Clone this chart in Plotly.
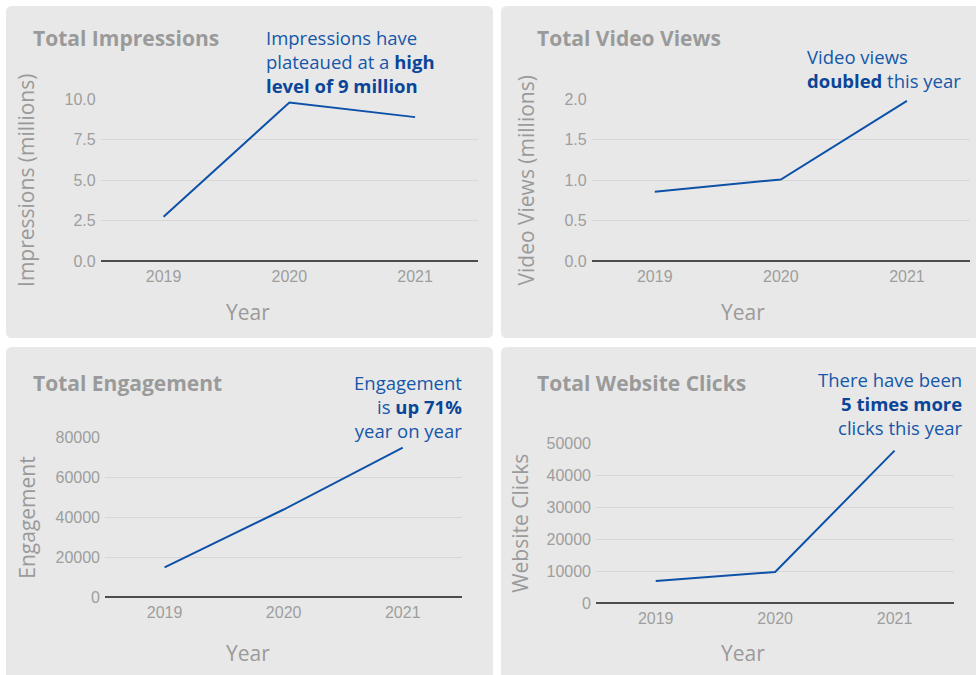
import plotly.graph_objects as go

W, H = 976, 675

# ---- data ----
years = ["2019", "2020", "2021"]
impressions_m = [2.75, 9.8, 8.9]
video_views_m = [0.86, 1.01, 1.98]
engagement = [15000, 44000, 75000]
website_clicks = [7000, 9800, 47700]

titles = ["Total Impressions", "Total Video Views", "Total Engagement", "Total Website Clicks"]
y_titles = ["Impressions (millions)", "Video Views (millions)", "Engagement", "Website Clicks"]
x_title = "Year"

# ---- style ----
PANEL_BG = "#e8e8e8"
GRID = "#d7d7d7"
ZERO = "#4d4d4d"
LINE = "#0d52a8"
TXT_BLUE = "#1557a8"
BOLD_BLUE = "#0a4597"
GREY_TITLE = "#9a9a9a"
GREY_TICK = "#9e9e9e"
FONT_TEXT = "Open Sans"
FONT_TICK = "Liberation Sans, Arial"


def px(x):
    return x / W


def py(y):
    # page y (px from top) -> paper fraction
    return 1 - y / H


def b(s):
    return f"<b><span style='color:{BOLD_BLUE}'>{s}</span></b>"


# panel geometry (page pixels): background box, plot area
panels = [
    dict(box=(6, 6, 493, 338), plot=(100.7, 99.3, 478, 261.3),
         yrange=[0, 10], dtick=2.5, fmt=".1f", standoff=24,
         title_xy=(31, 38), xtitle_xy=(248, 312)),
    dict(box=(501, 6, 990, 338), plot=(591.7, 99.3, 970, 261.3),
         yrange=[0, 2], dtick=0.5, fmt=".1f", standoff=24,
         title_xy=(535, 38), xtitle_xy=(743, 312)),
    dict(box=(6, 347, 493, 700), plot=(105, 437.7, 462.3, 597.3),
         yrange=[0, 80000], dtick=20000, fmt="d", standoff=14,
         title_xy=(31, 383), xtitle_xy=(248, 653)),
    dict(box=(501, 347, 990, 700), plot=(596, 443.3, 954.3, 603.3),
         yrange=[0, 50000], dtick=10000, fmt="d", standoff=12,
         title_xy=(535, 383), xtitle_xy=(743, 653)),
]
series = [impressions_m, video_views_m, engagement, website_clicks]

# callouts: text block anchored at (x, page y of its middle)
notes = [
    dict(x=265, y=61.5, xanchor="left",
         text="Impressions have<br>plateaued at a " + b("high") + "<br>" + b("level of 9 million")),
    dict(x=806, y=68, xanchor="left",
         text="Video views<br>" + b("doubled") + " this year"),
    dict(x=463, y=406, xanchor="right",
         text="Engagement<br>is " + b("up 71%") + "<br>year on year"),
    dict(x=963.5, y=403.5, xanchor="right",
         text="There have been<br>" + b("5 times more") + "<br>clicks this year"),
]

fig = go.Figure()
shapes = []
annotations = []
layout_axes = {}


def rounded_rect(x0, y0, x1, y1, r=6):
    X0, X1 = px(x0), px(x1)
    Y0, Y1 = py(y0), py(y1)
    rx, ry = r / W, r / H
    return (f"M {X0 + rx},{Y0} L {X1 - rx},{Y0} Q {X1},{Y0} {X1},{Y0 - ry} "
            f"L {X1},{Y1 + ry} Q {X1},{Y1} {X1 - rx},{Y1} "
            f"L {X0 + rx},{Y1} Q {X0},{Y1} {X0},{Y1 + ry} "
            f"L {X0},{Y0 - ry} Q {X0},{Y0} {X0 + rx},{Y0} Z")


for i, (p, vals) in enumerate(zip(panels, series)):
    n = "" if i == 0 else str(i + 1)
    xa, ya = f"x{n}", f"y{n}"

    fig.add_trace(go.Scatter(
        x=years, y=vals, mode="lines", xaxis=xa, yaxis=ya,
        line=dict(color=LINE, width=2), showlegend=False, hoverinfo="x+y",
    ))

    bx0, by0, bx1, by1 = p["box"]
    shapes.append(dict(type="path", path=rounded_rect(bx0, by0, bx1, by1),
                       xref="paper", yref="paper", fillcolor=PANEL_BG,
                       line=dict(width=0), layer="below"))

    x0, y0, x1, y1 = p["plot"]
    layout_axes[f"xaxis{n}"] = dict(
        domain=[px(x0), px(x1)], anchor=ya, type="category",
        categoryorder="array", categoryarray=years, range=[-0.5, 2.5],
        showgrid=False, zeroline=False, showline=False, ticks="",
        tickfont=dict(family=FONT_TICK, size=16, color=GREY_TICK),
        ticklabelstandoff=4, fixedrange=True, automargin=False,
    )
    layout_axes[f"yaxis{n}"] = dict(
        domain=[py(y1), py(y0)], anchor=xa, range=p["yrange"],
        tick0=0, dtick=p["dtick"], tickformat=p["fmt"],
        showgrid=True, gridcolor=GRID, gridwidth=1,
        zeroline=True, zerolinecolor=ZERO, zerolinewidth=1.5,
        showline=False, ticks="",
        tickfont=dict(family=FONT_TICK, size=16, color=GREY_TICK),
        ticklabelstandoff=4, automargin=False,
        title=dict(text=y_titles[i], standoff=p["standoff"],
                   font=dict(family=FONT_TEXT, size=21, color=GREY_TITLE)),
        fixedrange=True,
    )

    # panel heading
    tx, ty = p["title_xy"]
    annotations.append(dict(
        text=f"<b>{titles[i]}</b>", x=px(tx), y=py(ty), xref="paper", yref="paper",
        xanchor="left", yanchor="middle", showarrow=False,
        font=dict(family=FONT_TEXT, size=21, color=GREY_TITLE),
    ))
    # x-axis title, centred on the panel
    xx, xy = p["xtitle_xy"]
    annotations.append(dict(
        text=x_title, x=px(xx), y=py(xy), xref="paper", yref="paper",
        xanchor="center", yanchor="middle", showarrow=False,
        font=dict(family=FONT_TEXT, size=21, color=GREY_TITLE),
    ))

for note in notes:
    annotations.append(dict(
        text=note["text"], x=px(note["x"]), y=py(note["y"]), xref="paper", yref="paper",
        xanchor=note["xanchor"], yanchor="middle", align=note["xanchor"],
        showarrow=False, borderpad=0,
        font=dict(family=FONT_TEXT, size=18.5, color=TXT_BLUE),
    ))

fig.update_layout(
    width=W, height=H, autosize=False,
    margin=dict(l=0, r=0, t=0, b=0, pad=0, autoexpand=False),
    paper_bgcolor="white", plot_bgcolor=PANEL_BG,
    shapes=shapes, annotations=annotations, showlegend=False,
    **layout_axes,
)

fig.write_html("out.html", config={"displayModeBar": False})
